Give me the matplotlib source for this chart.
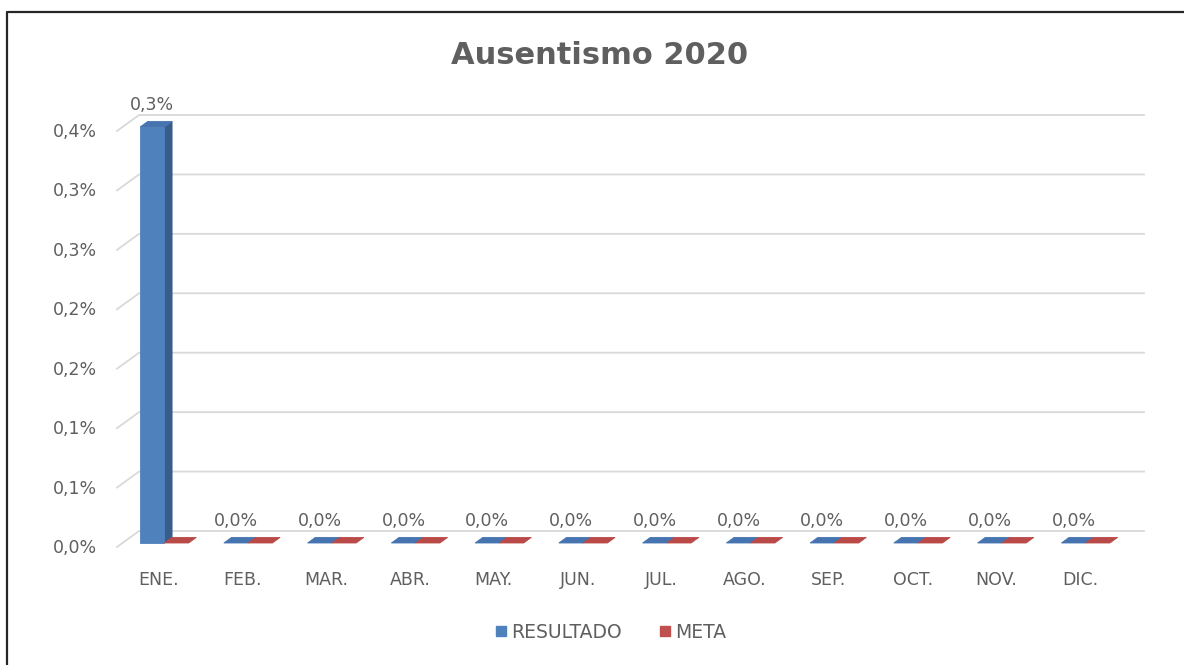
import matplotlib
matplotlib.use("Agg")
import matplotlib.pyplot as plt
from matplotlib.patches import Polygon
from matplotlib.lines import Line2D
from matplotlib.transforms import IdentityTransform
import numpy as np

# ---------------- data ----------------
months = ["ENE.", "FEB.", "MAR.", "ABR.", "MAY.", "JUN.",
          "JUL.", "AGO.", "SEP.", "OCT.", "NOV.", "DIC."]
resultado = [0.0035, 0, 0, 0, 0, 0, 0, 0, 0, 0, 0, 0]
meta = [0, 0, 0, 0, 0, 0, 0, 0, 0, 0, 0, 0]
resultado_labels = ["0,3%", "0,0%", "0,0%", "0,0%", "0,0%", "0,0%",
                    "0,0%", "0,0%", "0,0%", "0,0%", "0,0%", "0,0%"]
ytick_values = [0.0, 0.0005, 0.0010, 0.0015, 0.0020, 0.0025, 0.0030, 0.0035]
ytick_labels = ["0,0%", "0,1%", "0,1%", "0,2%", "0,2%", "0,3%", "0,3%", "0,4%"]
title = "Ausentismo 2020"
series_names = ["RESULTADO", "META"]

# ---------------- style ----------------
W, H = 1184, 665
TXT = "#5f5f5f"
GRID = "#d9d9d9"
BLUE_FRONT, BLUE_SIDE, BLUE_TOP = "#4f81bd", "#385d8a", "#4674b0"
RED_FRONT, RED_SIDE, RED_TOP = "#c0504d", "#8c3836", "#b94a47"
DEPTH = np.array([22.0, 16.0])   # pixel offset of the back wall
F0, F1 = 0.25, 0.60              # bar depth range (fraction of depth)
BW = 0.29                        # bar width in category units
FONT = "DejaVu Sans"
FS = 12.5

fig = plt.figure(figsize=(W / 100, H / 100), dpi=100)
ax = fig.add_axes([117 / W, (H - 547) / H, (1122 - 117) / W, (547 - 131) / H])
ax.set_xlim(-0.5, len(months) - 0.5)
ax.set_ylim(0, 0.0035)
ax.axis("off")
fig.canvas.draw()

ident = IdentityTransform()


def P(x, y, f=0.0):
    p = ax.transData.transform((x, y))
    return p + f * DEPTH


def poly(pts, color, z=3):
    fig.add_artist(Polygon(np.array(pts), closed=True, facecolor=color,
                           edgecolor=color, linewidth=0.6,
                           transform=ident, zorder=z))


xmin, xmax = ax.get_xlim()
# walls / gridlines
for v in ytick_values:
    a = P(xmin, v, 0)
    b = P(xmin, v, 1)
    c = P(xmax, v, 1)
    fig.add_artist(Line2D([a[0], b[0], c[0]], [a[1], b[1], c[1]],
                          color=GRID, lw=1.3, transform=ident, zorder=1))

# y tick labels
for v, lab in zip(ytick_values, ytick_labels):
    p = P(xmin, v, 0)
    fig.text(p[0] - 20, p[1] - 1, lab, transform=ident, ha="right", va="center",
             color=TXT, fontsize=FS, family=FONT)

# bars
for i, (r, m) in enumerate(zip(resultado, meta)):
    for k, (v, cf, cs, ct) in enumerate([(r, BLUE_FRONT, BLUE_SIDE, BLUE_TOP),
                                          (m, RED_FRONT, RED_SIDE, RED_TOP)]):
        x0 = i - BW + k * BW
        x1 = x0 + BW
        z = 3 + k * 0.1
        if v > 0:
            poly([P(x1, 0, F0), P(x1, 0, F1), P(x1, v, F1), P(x1, v, F0)], cs, z)
            poly([P(x0, 0, F0), P(x1, 0, F0), P(x1, v, F0), P(x0, v, F0)], cf, z)
        poly([P(x0, v, F0), P(x1, v, F0), P(x1, v, F1), P(x0, v, F1)], ct, z)

# data labels
for i, (r, lab) in enumerate(zip(resultado, resultado_labels)):
    p = P(i - BW / 2, r, F0)
    fig.text(p[0], p[1] + 22, lab, transform=ident, ha="center", va="center",
             color=TXT, fontsize=FS, family=FONT)

# category labels
for i, lab in enumerate(months):
    p = P(i, 0, 0)
    fig.text(p[0], p[1] - 33, lab, transform=ident, ha="center", va="center",
             color=TXT, fontsize=FS, family=FONT)

# title
fig.text(600 / W, 1 - 55 / H, title, ha="center", va="center", color=TXT,
         fontsize=22, fontweight="bold", family=FONT)

# legend
handles = [Line2D([], [], marker="s", ls="none", markersize=7,
                  markerfacecolor=c, markeredgecolor=c)
           for c in (BLUE_FRONT, RED_FRONT)]
fig.legend(handles, series_names, loc="center", bbox_to_anchor=(609 / W, 1 - 632 / H),
           ncol=2, frameon=False, handletextpad=0.05, columnspacing=1.8,
           handlelength=1.0, prop={"family": FONT, "size": 13.5},
           labelcolor=TXT)

# outer frame (left and top edges)
fig.add_artist(Line2D([7 / W, 7 / W, 1.0], [0.0, 1 - 12 / H, 1 - 12 / H],
                      color="#262626", lw=1.6, transform=fig.transFigure,
                      zorder=10))

fig.savefig("out.png", dpi=100)
